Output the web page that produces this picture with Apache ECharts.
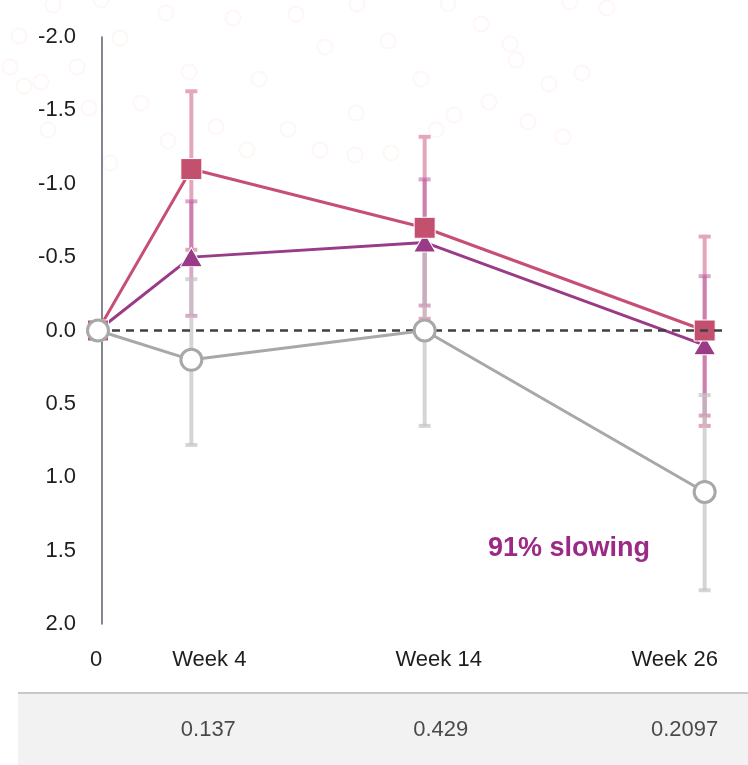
<!DOCTYPE html>
<html><head><meta charset="utf-8">
<script src="https://cdn.jsdelivr.net/npm/echarts@6/dist/echarts.min.js"></script>
<style>html,body{margin:0;padding:0;background:#fff}#c{width:748px;height:765px}</style>
</head><body><div id="c"></div>
<script>
// ---- data ----
const weeks = [0, 4, 14, 26];
const xTickValues = [0, 4, 14, 26];
const xTickLabels = ['0', 'Week 4', 'Week 14', 'Week 26'];
const pinkValues = [0, -1.1, -0.7, 0.0];
const purpleValues = [0, -0.5, -0.6, 0.1];
const greyValues = [0, 0.2, 0.0, 1.1];
const pinkErrLow = [null, -1.63, -1.32, -0.64];
const pinkErrHigh = [null, -0.55, -0.08, 0.65];
const purpleErrLow = [null, -0.88, -1.03, -0.37];
const purpleErrHigh = [null, -0.10, -0.17, 0.58];
const greyErrLow = [null, -0.35, -0.65, 0.44];
const greyErrHigh = [null, 0.78, 0.65, 1.77];
const pValueWeeks = [4, 14, 26];
const pValues = ['0.137', '0.429', '0.2097'];
const annotationText = '91% slowing';

// ---- decoration (faint background rings) ----
const rings = [[53,5],[101,0],[166,13],[233,18],[296,14],[357,4],[448,4],[481,24],[510,44],[388,41],[516,60],[549,84],[582,73],[607,8],[570,2],[325,47],[259,79],[189,72],[120,38],[141,103],[89,108],[216,127],[288,129],[356,113],[421,79],[454,115],[489,102],[528,122],[391,153],[320,150],[247,150],[168,141],[77,67],[19,36],[10,67],[24,86],[41,82],[110,163],[48,130],[563,137],[436,130],[355,155]];

const FONT = '"Liberation Sans", Arial, sans-serif';
const chart = echarts.init(document.getElementById('c'), null, {renderer: 'canvas'});

function errData(lo, hi) {
  const out = [];
  weeks.forEach((w, i) => { if (lo[i] != null) out.push([w, lo[i], hi[i]]); });
  return out;
}
function errRender(color) {
  return function (params, api) {
    const x = api.value(0), lo = api.value(1), hi = api.value(2);
    const p1 = api.coord([x, lo]), p2 = api.coord([x, hi]);
    const cw = 6, st = {stroke: color, lineWidth: 4};
    return {type: 'group', children: [
      {type: 'line', shape: {x1: p1[0], y1: p1[1], x2: p2[0], y2: p2[1]}, style: st},
      {type: 'line', shape: {x1: p1[0] - cw, y1: p1[1], x2: p1[0] + cw, y2: p1[1]}, style: st},
      {type: 'line', shape: {x1: p2[0] - cw, y1: p2[1], x2: p2[0] + cw, y2: p2[1]}, style: st}
    ]};
  };
}
const pair = (vals) => weeks.map((w, i) => [w, vals[i]]);
const xLabelPad = [[0,4,0,0],[0,0,0,36],[0,0,0,28],[0,60,0,0]];
const richX = {};
xLabelPad.forEach((p, i) => { richX['l' + i] = {padding: p, fontSize: 22, color: '#1e1e1e', fontFamily: FONT}; });
const pOffsets = [[17,0],[16,0],[-20,0]];

const graphics = rings.map(r => ({type: 'circle', z: -10, silent: true,
  shape: {cx: r[0], cy: r[1], r: 7.5}, style: {fill: 'none', stroke: 'rgba(242,170,160,0.09)', lineWidth: 2}}));
graphics.push({type: 'rect', z: -5, shape: {x: 18, y: 694, width: 730, height: 71}, style: {fill: '#f2f2f2'}});
graphics.push({type: 'line', z: -4, shape: {x1: 18, y1: 693, x2: 748, y2: 693}, style: {stroke: '#c8c8c8', lineWidth: 2}});
graphics.push({type: 'text', x: 569, y: 549, style: {text: annotationText, fill: '#9b2a87',
  font: 'bold 27px ' + FONT, textAlign: 'center', textVerticalAlign: 'middle'}});

chart.setOption({
  animation: false,
  backgroundColor: '#fff',
  graphic: graphics,
  grid: [
    {left: 98, right: 20, top: 37, bottom: 141},
    {left: 98, right: 20, top: 694, height: 71}
  ],
  xAxis: [
    {type: 'value', gridIndex: 0, min: 0, max: 27,
     axisLine: {show: false}, axisTick: {show: false}, splitLine: {show: false},
     axisLabel: {customValues: xTickValues, margin: 25, fontSize: 22, color: '#1e1e1e', fontFamily: FONT,
       formatter: v => { const i = xTickValues.indexOf(v); return '{l' + i + '|' + xTickLabels[i] + '}'; },
       rich: richX}},
    {type: 'value', gridIndex: 1, min: 0, max: 27, show: false}
  ],
  yAxis: [
    {type: 'value', gridIndex: 0, inverse: true, min: -2, max: 2, interval: 0.5, offset: -4,
     axisLine: {show: true, lineStyle: {color: '#5e5a6e', width: 1.5}},
     axisTick: {show: false}, splitLine: {show: false},
     axisLabel: {margin: 26, fontSize: 22, color: '#1e1e1e', fontFamily: FONT, formatter: v => v.toFixed(1)}},
    {type: 'value', gridIndex: 1, min: 0, max: 1, show: false}
  ],
  series: [
    {type: 'custom', z: 1, renderItem: errRender('#e3a6bd'), data: errData(pinkErrLow, pinkErrHigh), encode: {x: 0, y: [1, 2]}},
    {type: 'custom', z: 1, renderItem: errRender('rgba(190,95,160,0.55)'), data: errData(purpleErrLow, purpleErrHigh), encode: {x: 0, y: [1, 2]}},
    {type: 'custom', z: 1, renderItem: errRender('rgba(195,195,195,0.7)'), data: errData(greyErrLow, greyErrHigh), encode: {x: 0, y: [1, 2]}},
    {type: 'line', z: 2, data: [], markLine: {silent: true, symbol: 'none', label: {show: false},
      lineStyle: {color: '#404040', type: [8, 6], width: 2.5}, data: [{yAxis: 0}]}},
    {type: 'line', z: 3, data: pair(purpleValues), symbol: 'triangle', symbolSize: [22, 19],
     lineStyle: {color: '#9a3b88', width: 3}, itemStyle: {color: '#9a3b88', borderColor: '#fff', borderWidth: 1}},
    {type: 'line', z: 4, data: pair(pinkValues), symbol: 'rect', symbolSize: 21,
     lineStyle: {color: '#c74f73', width: 3}, itemStyle: {color: '#c4506f', borderColor: '#fff', borderWidth: 1}},
    {type: 'line', z: 5, data: pair(greyValues), symbol: 'circle', symbolSize: 21,
     lineStyle: {color: '#a8a8a8', width: 3}, itemStyle: {color: '#fff', borderColor: '#a8a8a8', borderWidth: 3}},
    {type: 'scatter', xAxisIndex: 1, yAxisIndex: 1, symbolSize: 0, silent: true,
     data: pValueWeeks.map((w, i) => ({value: [w, 0.5], label: {offset: pOffsets[i]}})),
     label: {show: true, position: 'inside', fontSize: 22, color: '#1e1e1e', fontFamily: FONT,
       formatter: p => pValues[p.dataIndex]}}
  ]
});
</script></body></html>
